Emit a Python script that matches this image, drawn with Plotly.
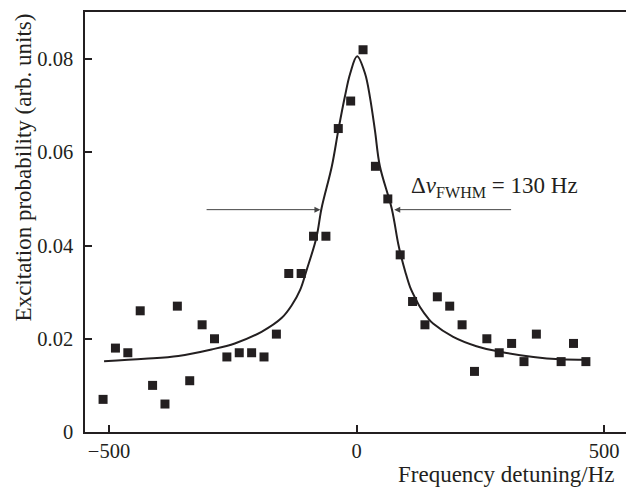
import plotly.graph_objects as go

# measured data points
detuning = [-512, -487, -462, -437, -412, -387, -362, -337, -312, -287, -262, -237,
            -212, -187, -162, -137, -112, -87, -62, -37, -12, 13, 38, 63, 88, 113,
            138, 163, 188, 213, 238, 263, 288, 313, 338, 363, 413, 438, 463]
probability = [0.0070, 0.0180, 0.0170, 0.0260, 0.0100, 0.0060, 0.0270, 0.0110, 0.0230,
               0.0200, 0.0161, 0.0170, 0.0170, 0.0161, 0.0210, 0.0340, 0.0340, 0.0420,
               0.0420, 0.0651, 0.0710, 0.0820, 0.0570, 0.0500, 0.0380, 0.0280, 0.0230,
               0.0290, 0.0270, 0.0230, 0.0130, 0.0200, 0.0170, 0.0190, 0.0151, 0.0210,
               0.0151, 0.0190, 0.0151]

# fitted curve
fit_x = [-510, -428, -360, -293, -246, -192, -151, -131, -114, -101, -81, -71, -50,
         -37, -24, -13, 1, 17, 27, 37, 47, 71, 84, 91, 98, 108, 121, 128, 145, 155,
         195, 242, 290, 357, 411, 465]
fit_y = [0.0152, 0.0157, 0.0163, 0.0177, 0.0190, 0.0215, 0.0245, 0.0272, 0.0305,
         0.0347, 0.0418, 0.0479, 0.0570, 0.0647, 0.0718, 0.0769, 0.0806, 0.0769,
         0.0718, 0.0647, 0.0570, 0.0479, 0.0404, 0.0372, 0.0345, 0.0311, 0.0282,
         0.0268, 0.0243, 0.0232, 0.0204, 0.0184, 0.0172, 0.0161, 0.0156, 0.0155]

x_ticks = [-500, 0, 500]
x_tick_text = ["\u2212500", "0", "500"]
y_ticks = [0, 0.02, 0.04, 0.06, 0.08]
y_tick_text = ["0", "0.02", "0.04", "0.06", "0.08"]

ink = "#231f20"
font = "Liberation Serif, Times New Roman, serif"
tick_fs = 20.5
title_fs = 23

fig = go.Figure()
fig.add_trace(go.Scatter(x=fit_x, y=fit_y, mode="lines",
                         line=dict(color=ink, width=2, shape="spline", smoothing=1.0),
                         hoverinfo="skip"))
fig.add_trace(go.Scatter(x=detuning, y=probability, mode="markers",
                         marker=dict(symbol="square", size=9, color=ink)))

half_y = 0.0477
fig.add_annotation(x=-73, y=half_y, ax=-306, ay=half_y, xref="x", yref="y",
                   axref="x", ayref="y", text="", showarrow=True,
                   arrowhead=2, arrowsize=1.2, arrowwidth=1, arrowcolor="#444")
fig.add_annotation(x=76, y=half_y, ax=315, ay=half_y, xref="x", yref="y",
                   axref="x", ayref="y", text="", showarrow=True,
                   arrowhead=2, arrowsize=1.2, arrowwidth=1, arrowcolor="#444")
fig.add_annotation(x=105, y=0.0525, xref="x", yref="y", xanchor="left", yanchor="middle",
                   text="\u0394<i>\u03bd</i><sub>FWHM</sub> = 130 Hz", showarrow=False,
                   font=dict(family=font, size=title_fs, color=ink))

fig.add_annotation(x=-0.1146, y=0.63, xref="paper", yref="paper",
                   text="Excitation probability (arb. units)", textangle=-90,
                   showarrow=False, xanchor="center", yanchor="middle",
                   font=dict(family=font, size=title_fs, color=ink))
fig.add_annotation(x=0.984, y=-0.101, xref="paper", yref="paper",
                   text="Frequency detuning/Hz", showarrow=False,
                   xanchor="right", yanchor="middle",
                   font=dict(family=font, size=title_fs, color=ink))

fig.update_layout(
    width=626, height=491,
    margin=dict(l=85, r=0, t=12, b=59, autoexpand=False),
    paper_bgcolor="white", plot_bgcolor="white",
    showlegend=False,
    font=dict(family=font, size=tick_fs, color=ink),
    xaxis=dict(range=[-548.5, 544], tickvals=x_ticks, ticktext=x_tick_text,
               ticks="inside", ticklen=7, tickwidth=1.5, tickcolor=ink,
               showline=True, linecolor=ink, linewidth=1.5, mirror=True,
               showgrid=False, zeroline=False, ticklabelstandoff=0,
               automargin=False),
    yaxis=dict(range=[0, 0.0901], tickvals=y_ticks, ticktext=y_tick_text,
               ticks="inside", ticklen=7, tickwidth=1.5, tickcolor=ink,
               showline=True, linecolor=ink, linewidth=1.5,
               showgrid=False, zeroline=False, ticklabelstandoff=6,
               automargin=False),
)

fig.write_html("out.html", config={"displayModeBar": False},
               post_script="document.body.style.margin='0';document.body.style.overflow='hidden';")
